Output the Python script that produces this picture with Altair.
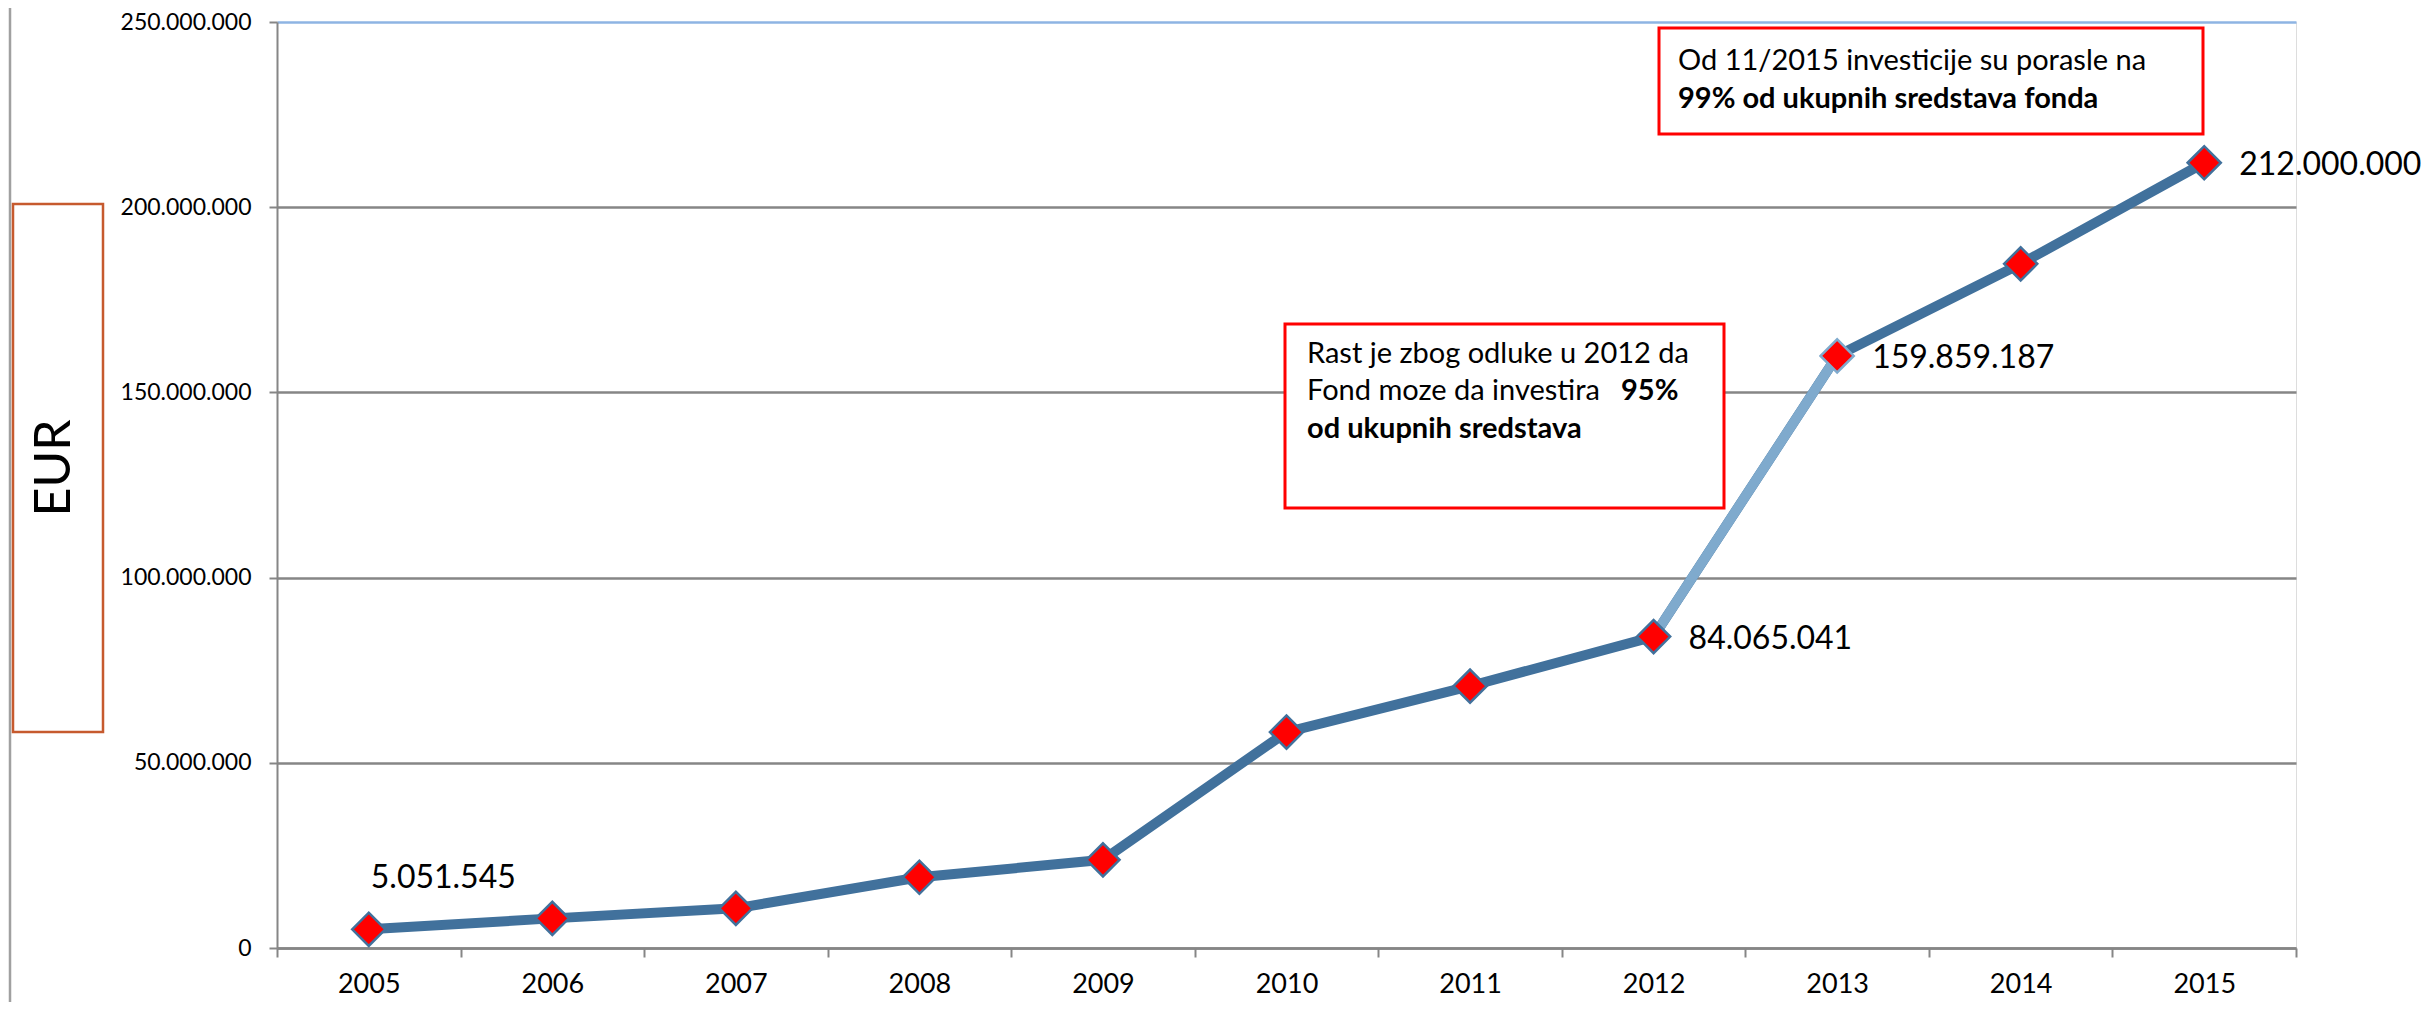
import altair as alt
import pandas as pd

# ---- data ----
years = [2005, 2006, 2007, 2008, 2009, 2010, 2011, 2012, 2013, 2014, 2015]
values = [5051545, 8000000, 10700000, 19100000, 23800000, 58300000,
          70700000, 84065041, 159859187, 184700000, 212000000]
labeled_above = [2005]
labeled_right = [2012, 2013, 2015]
light_segment = [2012, 2013]
y_ticks = [0, 50000000, 100000000, 150000000, 200000000, 250000000]

note1_lines = ["Rast je zbog odluke u 2012 da", "Fond moze da investira", "95%", "od ukupnih sredstava"]
note2_lines = ["Od 11/2015 investicije su porasle na", "99% od ukupnih sredstava fonda"]
y_title = "EUR"

DARK = "#41719c"
LIGHT = "#7faacd"
RED = "#ff0000"
GRAY = "#868686"
FONT = "Lato"

df = pd.DataFrame({"year": years, "value": values})
one = pd.DataFrame({"k": [0]})

fmt = "replace(format(datum.value, ','), regexp(',', 'g'), '.')"

x_enc = alt.X(
    "year:O",
    scale=alt.Scale(type="band", paddingInner=0, paddingOuter=0),
    axis=alt.Axis(
        title=None, labelAngle=0, labelFontSize=27, labelColor="black",
        labelPadding=14, tickBand="extent", tickSize=9, tickWidth=2,
        tickColor=GRAY, domainColor=GRAY, domainWidth=2.5, grid=False,
        labelFont=FONT,
    ),
)
y_enc = alt.Y(
    "value:Q",
    scale=alt.Scale(domain=[0, 250000000], nice=False),
    axis=alt.Axis(
        title=None, values=y_ticks, labelExpr=fmt, labelFontSize=23,
        labelColor="black", labelPadding=18, tickSize=8, tickWidth=2,
        tickColor=GRAY, domainColor=GRAY, domainWidth=2, grid=True,
        gridColor={"condition": {"test": "datum.value >= 250000000", "value": "#8eb4e3"},
                   "value": GRAY},
        gridWidth=2.5, labelFont=FONT,
    ),
)

base = alt.Chart(df)

line = base.mark_line(color=DARK, strokeWidth=10).encode(x=x_enc, y=y_enc)
line_light = base.transform_filter(
    alt.FieldOneOfPredicate(field="year", oneOf=light_segment)
).mark_line(color=LIGHT, strokeWidth=10).encode(x=x_enc, y=y_enc)

points = base.mark_point(
    shape="diamond", filled=True, fill=RED, size=1100, strokeWidth=2.5, opacity=1
).encode(
    x=x_enc, y=y_enc,
    stroke=alt.condition("datum.year == 2013", alt.value(LIGHT), alt.value(DARK)),
)

lab_above = base.transform_filter(
    alt.FieldOneOfPredicate(field="year", oneOf=labeled_above)
).transform_calculate(label=fmt).mark_text(
    align="left", baseline="middle", dx=2, dy=-51, fontSize=32, font=FONT, color="black"
).encode(x=x_enc, y=y_enc, text="label:N")

lab_right = base.transform_filter(
    alt.FieldOneOfPredicate(field="year", oneOf=labeled_right)
).transform_calculate(label=fmt).mark_text(
    align="left", baseline="middle", dx=35, dy=2, fontSize=32, font=FONT, color="black"
).encode(x=x_enc, y=y_enc, text="label:N")

# ---- annotation boxes (pixel offsets inside the plot area) ----
ann = alt.Chart(one)
box1 = ann.mark_rect(fill="white", stroke=RED, strokeWidth=3).encode(
    x=alt.value(1008), x2=alt.value(1447), y=alt.value(302), y2=alt.value(486))
box2 = ann.mark_rect(fill="white", stroke=RED, strokeWidth=3).encode(
    x=alt.value(1382), x2=alt.value(1926), y=alt.value(6), y2=alt.value(112))

def txt(s, xx, yy, bold=False, size=29, align="left", angle=0):
    return ann.mark_text(
        align=align, baseline="middle", fontSize=size, font=FONT, color="black",
        fontWeight="bold" if bold else "normal", angle=angle,
    ).encode(x=alt.value(xx), y=alt.value(yy), text=alt.value(s))

n1a = txt(note1_lines[0], 1030, 332)
n1b = txt(note1_lines[1], 1030, 369)
n1c = txt(note1_lines[2], 1344, 369, bold=True)
n1d = txt(note1_lines[3], 1030, 407, bold=True)
n2a = txt(note2_lines[0], 1401, 39)
n2b = txt(note2_lines[1], 1401, 77, bold=True)

# ---- y title box ----
eur_box = ann.mark_rect(fill="white", stroke="#c65a2e", strokeWidth=2.5).encode(
    x=alt.value(-264), x2=alt.value(-174), y=alt.value(182), y2=alt.value(710))
eur_txt = txt(y_title, -222, 446, size=50, align="center", angle=270)
frame = ann.mark_rule(color="#a0a0a0", strokeWidth=2.5).encode(
    x=alt.value(-267), y=alt.value(-14), y2=alt.value(986))

chart = alt.layer(
    frame, eur_box, eur_txt,
    line, line_light, points, lab_above, lab_right,
    box1, box2, n1a, n1b, n1c, n1d, n2a, n2b,
).properties(
    width=2019, height=926,
    autosize=alt.AutoSizeParams(type="none"),
    padding={"left": 269, "top": 14, "right": 126, "bottom": 54},
).configure_view(
    fill="#f2f2f2", stroke="#8eb4e3", strokeWidth=2
).configure(font=FONT, background="white")

chart.save("out.html", embed_options={"renderer": "svg", "actions": False})
